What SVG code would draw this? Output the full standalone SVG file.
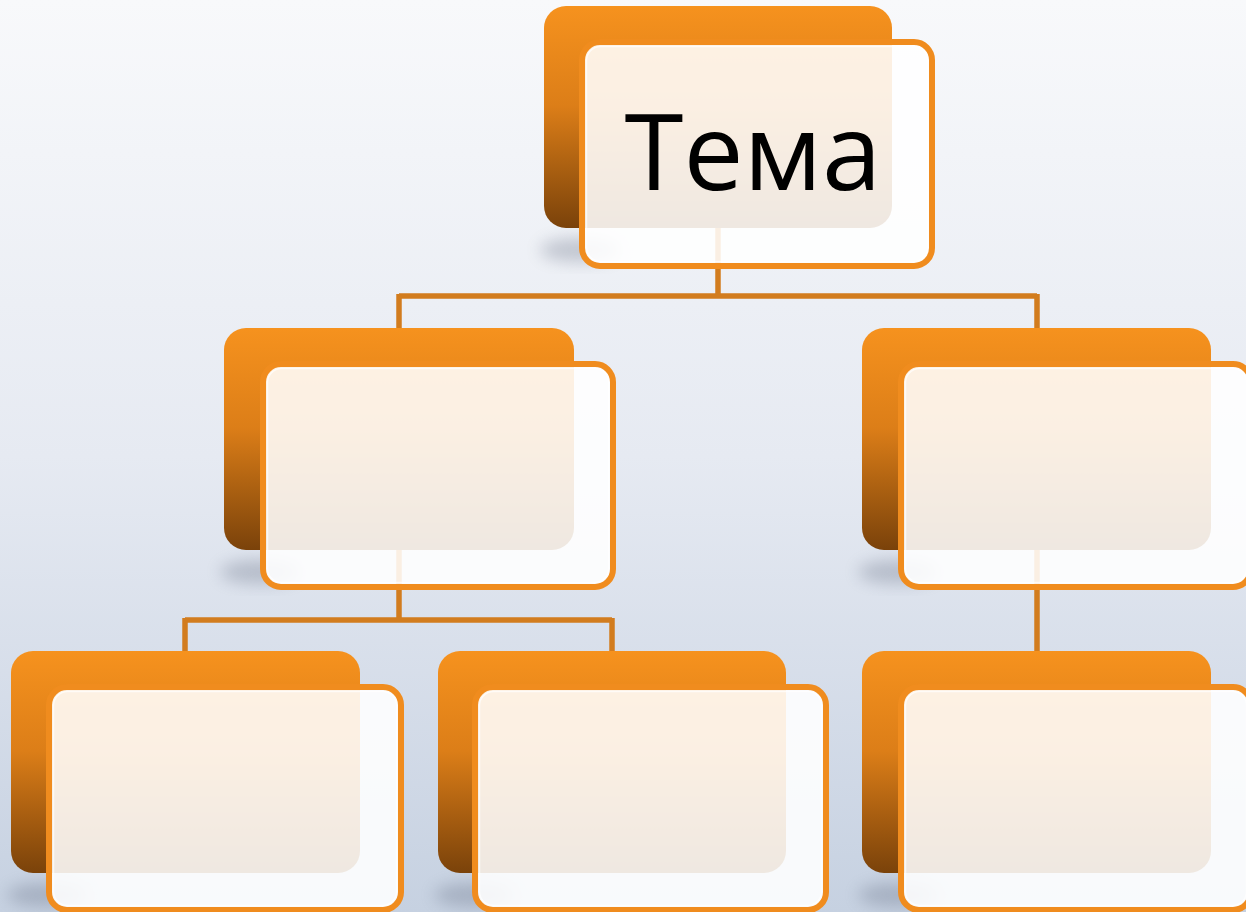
<svg xmlns="http://www.w3.org/2000/svg" width="1246" height="912" viewBox="0 0 1246 912">
<defs>
<linearGradient id="bg" x1="0" y1="0" x2="0" y2="1">
<stop offset="0" stop-color="#f8f9fb"/>
<stop offset="0.5" stop-color="#e6eaf2"/>
<stop offset="1" stop-color="#c6d1e1"/>
</linearGradient>
<linearGradient id="back" x1="0" y1="0" x2="0" y2="1">
<stop offset="0" stop-color="#f6921e"/>
<stop offset="0.45" stop-color="#dc7e18"/>
<stop offset="1" stop-color="#7a420a"/>
</linearGradient>
<filter id="sh" x="-20%" y="-50%" width="140%" height="200%">
<feGaussianBlur stdDeviation="8"/>
</filter>
<style>
.back{fill:url(#back)}
.front{fill:#ffffff;fill-opacity:0.88;stroke:#f08c1e;stroke-width:6}
.inner{fill:none;stroke:#ffffff;stroke-width:1.5;stroke-opacity:0.7}
.shadow{fill:#5a6478;opacity:0.3;filter:url(#sh)}
.conn{fill:none;stroke:#d27c1e;stroke-width:5.5}
.lbl{font-family:"Open Sans","Liberation Sans",sans-serif;font-size:107px;fill:#000}
</style>
</defs>
<rect width="1246" height="912" fill="url(#bg)"/>
<g id="connectors">
<path class="conn" d="M718 228 V296 M399 296 H1037 M399 294 V328 M1037 294 V328"/>
<path class="conn" d="M399 550 V620 M185 620 H612 M185 618 V651 M612 618 V651"/>
<path class="conn" d="M1037 550 V651"/>
</g>
<g id="n0">
<ellipse class="shadow" cx="580" cy="250" rx="40" ry="12"/>
<rect class="back" x="544" y="6" width="348" height="222" rx="22"/>
<rect class="front" x="582" y="42" width="350" height="224" rx="18"/>
<rect class="inner" x="586.5" y="46.5" width="341" height="215" rx="14"/>
<text class="lbl" x="753" y="190" text-anchor="middle">Тема</text>
</g>
<g id="n1">
<ellipse class="shadow" cx="260" cy="572" rx="40" ry="12"/>
<rect class="back" x="224" y="328" width="350" height="222" rx="22"/>
<rect class="front" x="263" y="364" width="350" height="223" rx="18"/>
<rect class="inner" x="267.5" y="368.5" width="341" height="214" rx="14"/>
</g>
<g id="n2">
<ellipse class="shadow" cx="898" cy="572" rx="40" ry="12"/>
<rect class="back" x="862" y="328" width="349" height="222" rx="22"/>
<rect class="front" x="901" y="364" width="350" height="223" rx="18"/>
<rect class="inner" x="905.5" y="368.5" width="341" height="214" rx="14"/>
</g>
<g id="n3">
<ellipse class="shadow" cx="47" cy="895" rx="40" ry="12"/>
<rect class="back" x="11" y="651" width="349" height="222" rx="22"/>
<rect class="front" x="49" y="687" width="352" height="223" rx="18"/>
<rect class="inner" x="53.5" y="691.5" width="343" height="214" rx="14"/>
</g>
<g id="n4">
<ellipse class="shadow" cx="474" cy="895" rx="40" ry="12"/>
<rect class="back" x="438" y="651" width="348" height="222" rx="22"/>
<rect class="front" x="475" y="687" width="351" height="223" rx="18"/>
<rect class="inner" x="479.5" y="691.5" width="342" height="214" rx="14"/>
</g>
<g id="n5">
<ellipse class="shadow" cx="898" cy="895" rx="40" ry="12"/>
<rect class="back" x="862" y="651" width="349" height="222" rx="22"/>
<rect class="front" x="901" y="687" width="350" height="223" rx="18"/>
<rect class="inner" x="905.5" y="691.5" width="341" height="214" rx="14"/>
</g>
</svg>
